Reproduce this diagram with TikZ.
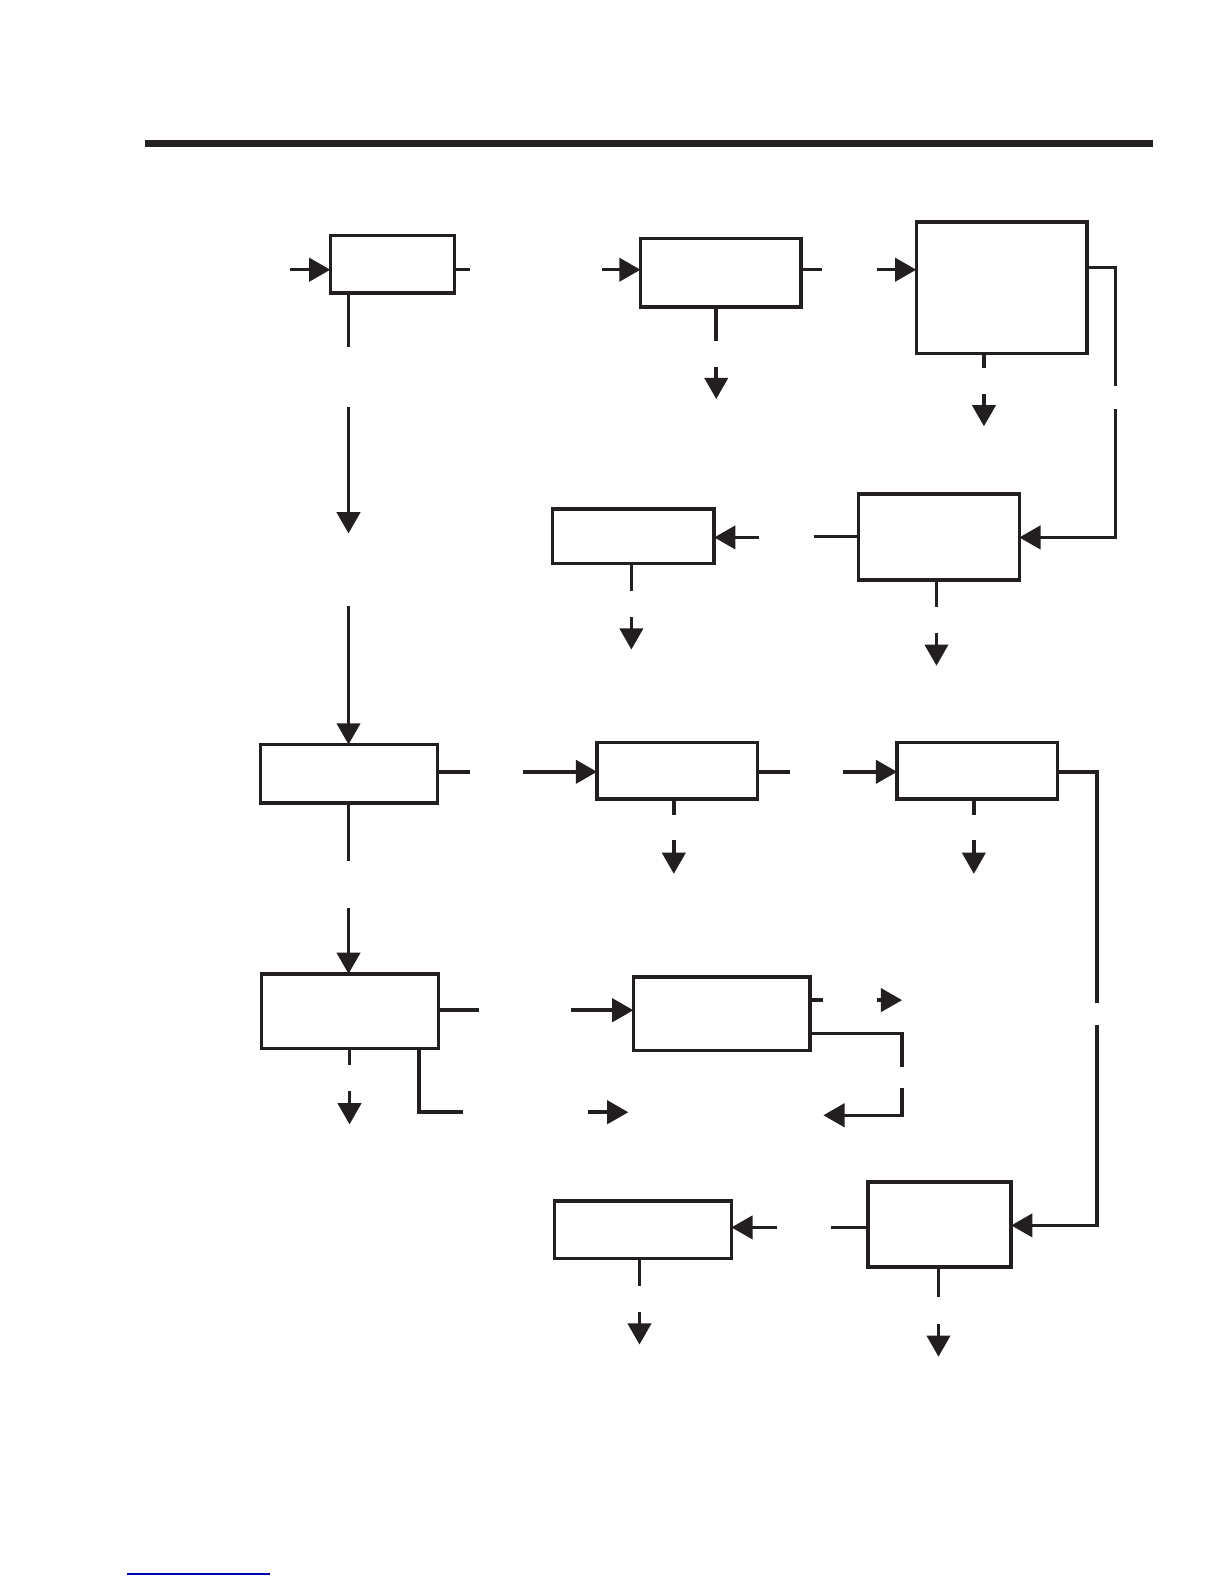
\documentclass[tikz,border=0pt]{standalone}
\usetikzlibrary{arrows.meta}
\definecolor{ink}{HTML}{231F20}
\tikzset{
  box/.style={draw=ink, line width=3.5pt, inner sep=0pt, outer sep=0pt, anchor=north west, fill=white},
  ln/.style={draw=ink, line width=3.5pt},
  arr/.style={draw=ink, line width=3.5pt, -{Triangle[length=21pt,width=23pt]}},
}
\begin{document}
\begin{tikzpicture}[x=1pt,y=-1pt]
\useasboundingbox (0,0) rectangle (1212,1568);
% top bar
\draw[ink, line width=7pt] (144,142.5) -- (1141,142.5);
% boxes
\node[box, minimum width=123pt, minimum height=57pt] (A) at (327,233) {};
\node[box, minimum width=159pt, minimum height=68pt] (B) at (634,236) {};
\node[box, minimum width=169pt, minimum height=130pt] (C) at (907,220) {};
\node[box, minimum width=159pt, minimum height=85pt] (E) at (850,489) {};
\node[box, minimum width=160pt, minimum height=54pt] (F) at (547,504) {};
\node[box, minimum width=175pt, minimum height=58pt] (D) at (258,737) {};
\node[box, minimum width=159pt, minimum height=56pt] (H) at (591,735) {};
\node[box, minimum width=159pt, minimum height=56pt] (I) at (888,735) {};
\node[box, minimum width=175pt, minimum height=74pt] (G) at (259,964) {};
\node[box, minimum width=175pt, minimum height=73pt] (J) at (627,967) {};
\node[box, minimum width=142pt, minimum height=84pt] (K) at (859,1170) {};
\node[box, minimum width=175pt, minimum height=57pt] (L) at (549,1189) {};
% A
\draw[arr] (287,267) -- (A.west |- 0,267);
\draw[ln] (A.east |- 0,267) -- (465,267);
\draw[ln] (345,0 |- A.south) -- (345,343);
\draw[arr] (345,403) -- (345,528);
\draw[arr] (345,600) -- (345,0 |- D.north);
% B
\draw[arr] (596,267) -- (B.west |- 0,267);
\draw[ln] (B.east |- 0,267) -- (814,267);
\draw[ln] (709,0 |- B.south) -- (709,338);
\draw[arr] (709,363) -- (709,395);
% C
\draw[arr] (868,267) -- (C.west |- 0,267);
\draw[ln] (C.east |- 0,265) -- (1104,265) -- (1104,382);
\draw[arr] (1104,405) -- (1104,532) -- (E.east |- 0,532);
\draw[ln] (974,0 |- C.south) -- (974,364);
\draw[arr] (974,390) -- (974,422);
% E
\draw[ln] (806,531) -- (E.west |- 0,531);
\draw[ln] (927,0 |- E.south) -- (927,601);
\draw[arr] (927,627) -- (927,659);
% F
\draw[arr] (751,532) -- (F.east |- 0,532);
\draw[ln] (625,0 |- F.south) -- (625,585);
\draw[arr] (625,611) -- (625,643);
% D
\draw[ln] (D.east |- 0,764) -- (465,764);
\draw[ln] (345,0 |- D.south) -- (345,852);
\draw[arr] (345,899) -- (345,0 |- G.north);
% H
\draw[arr] (518,764) -- (H.west |- 0,764);
\draw[ln] (H.east |- 0,764) -- (782,764);
\draw[ln] (667,0 |- H.south) -- (667,807);
\draw[arr] (667,832) -- (667,865);
% I
\draw[arr] (834,764) -- (I.west |- 0,764);
\draw[ln] (I.east |- 0,764) -- (1086,764) -- (1086,993);
\draw[arr] (1086,1015) -- (1086,1213) -- (K.east |- 0,1213);
\draw[ln] (964,0 |- I.south) -- (964,807);
\draw[arr] (964,832) -- (964,865);
% G
\draw[ln] (G.east |- 0,1000) -- (474,1000);
\draw[ln] (346,0 |- G.south) -- (346,1054);
\draw[arr] (346,1080) -- (346,1113);
\draw[ln] (415,0 |- G.south) -- (415,1101) -- (458,1101);
\draw[arr] (582,1101) -- (622,1101);
% J
\draw[arr] (565,1000) -- (J.west |- 0,1000);
\draw[ln] (J.east |- 0,990) -- (815,990);
\draw[arr] (868,990) -- (893,990);
\draw[ln] (J.east |- 0,1023) -- (893,1023) -- (893,1056);
\draw[arr] (893,1077) -- (893,1104) -- (815,1104);
% K
\draw[ln] (823,1215) -- (K.west |- 0,1215);
\draw[ln] (929,0 |- K.south) -- (929,1284);
\draw[arr] (929,1311) -- (929,1343);
% L
\draw[arr] (769,1215) -- (L.east |- 0,1215);
\draw[ln] (633,0 |- L.south) -- (633,1273);
\draw[arr] (633,1299) -- (633,1331);
% blue underline
\draw[blue!70!black, line width=1.2pt] (126,1558) -- (267,1558);
\end{tikzpicture}
\end{document}
